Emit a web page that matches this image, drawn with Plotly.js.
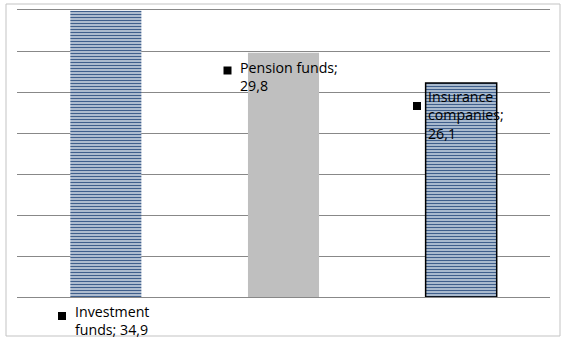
<!DOCTYPE html>
<html>
<head>
<meta charset="utf-8">
<script src="https://cdn.plot.ly/plotly-3.0.1.min.js"></script>
<style>
  html, body { margin: 0; padding: 0; background: #ffffff; }
  #chart { width: 568px; height: 344px; }
</style>
</head>
<body>
<div id="chart"></div>
<script>
// ---- data ----
const categories = ['Investment funds', 'Pension funds', 'Insurance companies'];
const values = [34.9, 29.8, 26.1];
// data-label lines (category name; value with decimal comma), as laid out in the picture
const labelLines = [
  ['Investment', 'funds; 34,9'],
  ['Pension funds;', '29,8'],
  ['Insurance', 'companies;', '26,1']
];
const yTicks = [0, 5, 10, 15, 20, 25, 30, 35];

// ---- layout helpers (pixel -> paper) ----
const W = 568, H = 344;
const M = { l: 17, r: 18, t: 10, b: 47 };
const PW = W - M.l - M.r, PH = H - M.t - M.b;
const px = v => (v - M.l) / PW;
const py = v => (H - M.b - v) / PH;

const font = { family: 'Open Sans, Noto Sans, sans-serif', size: 14.2, color: '#000000' };

// label placement (pixel positions: text block top-left & marker centre)
const labelPos = [
  { x: 73, y: 299.5, sx: 62, sy: 316 },
  { x: 238, y: 55.5, sx: 227.5, sy: 70.5 },
  { x: 426, y: 84.5, sx: 417, sy: 106 }
];

const annotations = [];
const shapes = [];
labelLines.forEach((lines, i) => {
  const p = labelPos[i];
  annotations.push({
    xref: 'paper', yref: 'paper',
    x: px(p.x), y: py(p.y),
    xanchor: 'left', yanchor: 'top',
    text: lines.join('<br>'), showarrow: false, font: font, align: 'left'
  });
  shapes.push({
    type: 'rect', xref: 'paper', yref: 'paper',
    x0: px(p.sx - 4), x1: px(p.sx + 4), y0: py(p.sy + 4), y1: py(p.sy - 4),
    fillcolor: '#000000', line: { width: 0 }, layer: 'above'
  });
});
// outer chart border
shapes.push({
  type: 'rect', xref: 'paper', yref: 'paper',
  x0: px(6), x1: px(560), y0: py(336), y1: py(4),
  line: { color: '#c3c3c3', width: 1 }, fillcolor: 'rgba(0,0,0,0)', layer: 'below'
});

const trace = {
  type: 'bar',
  x: categories,
  y: values,
  hoverinfo: 'none',
  marker: {
    color: '#ffffff',
    line: { color: ['rgba(0,0,0,0)', 'rgba(0,0,0,0)', '#000000'], width: [0, 0, 1.5] },
    pattern: {
      shape: ['-', '-', '-'],
      fgcolor: ['#3f5f8c', '#bfbfbf', '#3f5f8c'],
      bgcolor: ['#f6f9fb', '#bfbfbf', '#eef6f9'],
      fgopacity: 1,
      size: 3,
      solidity: [0.6, 1, 0.6],
      fillmode: 'replace'
    }
  }
};

const layout = {
  width: W, height: H,
  margin: M,
  paper_bgcolor: '#ffffff',
  plot_bgcolor: '#ffffff',
  showlegend: false,
  bargap: 0.6,
  font: font,
  xaxis: {
    type: 'category',
    showticklabels: false,
    showgrid: false,
    zeroline: false,
    showline: true,
    mirror: true,
    linecolor: '#888888',
    linewidth: 1,
    ticks: ''
  },
  yaxis: {
    range: [0, 35],
    tickvals: yTicks,
    showticklabels: false,
    ticks: '',
    showgrid: true,
    gridcolor: '#888888',
    gridwidth: 1,
    zeroline: true,
    zerolinecolor: '#888888',
    zerolinewidth: 1,
    showline: false
  },
  annotations: annotations,
  shapes: shapes
};

Plotly.newPlot('chart', [trace], layout, { displayModeBar: false, staticPlot: true });
</script>
</body>
</html>
